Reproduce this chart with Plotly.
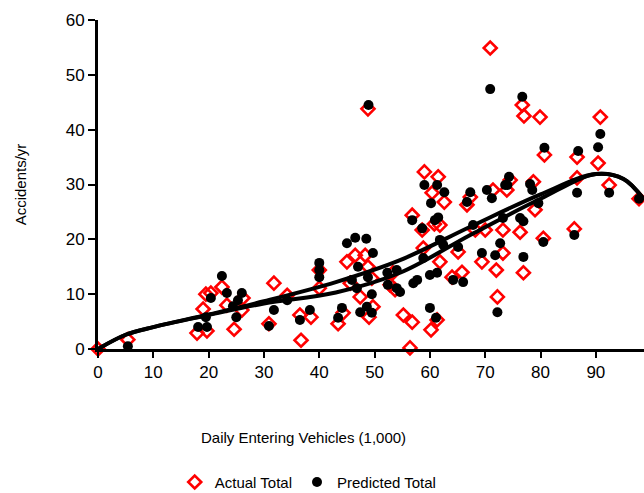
import plotly.graph_objects as go

# Actual totals (red open diamonds)
actual_x = [0, 5.4, 17.9, 19, 19.5, 20.4, 19.7, 22.4, 23.3, 24.6, 26, 26.2, 31.8, 30.9, 34.2,
            36.5, 38.5, 36.7, 40, 40, 43.4, 44.3, 45, 45.6, 46.5, 47.4, 48.3, 48.8, 49.5, 49.7,
            49, 48.8, 52.8, 53.7, 55.2, 56.8, 56.4, 56.8, 58.6, 59, 61.5, 60.4, 62.6, 60.2,
            61.3, 58.8, 61.8, 60.8, 61.8, 64, 65.8, 65.1, 66.7, 68.2, 69.4, 70, 71.4, 72,
            72.2, 73.2, 73.2, 53.3, 70.9, 76.7, 77, 79.9, 90.8, 80.7, 86.6, 90.4, 86.6, 92.4,
            97.8, 78.7, 74.5, 73.9, 67.3, 79, 76.3, 80.5, 86.1, 76.9]
actual_y = [0, 1.7, 2.9, 7.3, 10, 10.2, 3.3, 11.3, 8, 3.6, 7.1, 9.3, 12, 4.6, 9.8,
            6.2, 5.8, 1.6, 14.4, 11.1, 4.6, 6.6, 15.9, 12, 17.1, 9.5, 17.1, 15, 12.9, 7.7,
            5.8, 43.8, 11.7, 10.8, 6.2, 4.9, 0.2, 24.4, 21.7, 32.3, 31.4, 28.5, 26.8, 3.5,
            5.3, 18.4, 22.6, 22.8, 15.9, 13.1, 14, 17.7, 26.3, 21.7, 15.9, 21.7, 29, 14.4,
            9.5, 21.7, 17.5, 13.9, 54.9, 44.5, 42.5, 42.3, 42.3, 35.4, 35, 33.9, 31.2, 29.9,
            27.4, 30.5, 30.8, 29, 27.7, 25.4, 21.3, 20.2, 21.9, 13.9]

# Predicted totals (black dots)
pred_x = [5.4, 18.1, 19.5, 19.7, 20.4, 22.4, 23.3, 25, 24.4, 25.3, 26, 30.9, 31.8, 34.2,
          36.5, 38.3, 40, 40, 40, 43.4, 44.1, 45, 46.5, 48.5, 49.7, 47, 45.9, 46.8, 48.8,
          49.5, 48.6, 49.5, 47.4, 52.3, 52.4, 54, 54, 48.9, 54.6, 56.8, 57, 57.7, 58.6, 59,
          60.2, 61.3, 62.6, 60.9, 61.5, 61.8, 62.4, 60, 61.3, 58.8, 60, 61.1, 64.2, 65.1,
          66, 67.3, 66.7, 67.8, 69.4, 70.3, 71.2, 71.8, 72.7, 72.2, 74, 70.9, 76.7, 80.7,
          86.8, 90.8, 90.4, 86.6, 92.4, 97.8, 74.3, 73.6, 78.1, 78.5, 79.6, 76.3, 76.9,
          73.2, 80.5, 86.1, 76.9]
pred_y = [0.5, 4, 5.8, 4, 9.3, 13.3, 10.2, 5.8, 7.8, 8.9, 10.2, 4.2, 7.1, 8.9,
          5.3, 7.1, 15.7, 14.4, 13.1, 5.7, 7.5, 19.3, 20.3, 20.1, 17.5, 15, 12.6, 11.1, 13.1,
          10, 7.7, 6.6, 6.7, 13.9, 11.7, 11.1, 14.4, 44.5, 10.4, 23.5, 12, 12.6, 22, 29.9,
          26.6, 29.9, 28.6, 23.5, 24, 19.9, 19, 13.5, 13.9, 16.6, 7.5, 5.7, 12.6, 18.6,
          12.2, 28.6, 26.8, 22.6, 17.5, 29, 27.5, 17.1, 19.3, 6.7, 29.9, 47.4, 46, 36.7,
          36.1, 39.2, 36.8, 28.5, 28.5, 27.4, 31.4, 29.9, 30.1, 29, 26.6, 23.9, 23.3,
          23.9, 19.5, 20.8, 16.8]

# trend lines
trend_x = [0, 5, 10, 20, 30, 43, 54.6, 67.3, 80, 90, 95, 98.5]
trend_upper = [0, 2.6, 4.0, 6.3, 8.7, 12.2, 16.2, 22.3, 28.2, 31.9, 31.0, 27.5]
trend_lower = [0, 2.6, 4.0, 6.2, 8.3, 10.3, 13.9, 20.8, 27.4, 31.9, 31.0, 27.5]

fig = go.Figure()
fig.add_trace(go.Scatter(x=actual_x, y=actual_y, mode='markers', name='Actual Total',
                         marker=dict(symbol='diamond-open', size=10, color='#ff0000',
                                     line=dict(width=2.6, color='#ff0000')),
                         cliponaxis=False))
fig.add_trace(go.Scatter(x=pred_x, y=pred_y, mode='markers', name='Predicted Total',
                         marker=dict(symbol='circle', size=10, color='black'),
                         cliponaxis=False))
fig.add_trace(go.Scatter(x=trend_x, y=trend_upper, mode='lines', showlegend=False,
                         line=dict(color='black', width=4, shape='spline')))
fig.add_trace(go.Scatter(x=trend_x, y=trend_lower, mode='lines', showlegend=False,
                         line=dict(color='black', width=4, shape='spline')))

fig.update_layout(
    width=644, height=493,
    margin=dict(l=98, r=0, t=20, b=144, autoexpand=False),
    paper_bgcolor='white', plot_bgcolor='white',
    font=dict(family='Liberation Sans, Arial', color='black', size=15),
    legend=dict(orientation='h', x=0.385, xanchor='center', y=-0.405, yanchor='middle',
                font=dict(size=15)),
    # x title sits left of the plot centre in the original
    annotations=[dict(text='Daily Entering Vehicles (1,000)', xref='paper', yref='paper',
                      x=0.377, y=-0.2675, xanchor='center', yanchor='middle',
                      showarrow=False, font=dict(size=15))],
)
fig.update_xaxes(range=[0, 98.7], tickvals=[0, 10, 20, 30, 40, 50, 60, 70, 80, 90],
                 showgrid=False, zeroline=False, showline=True, linewidth=3, linecolor='black',
                 ticks='outside', ticklen=6, tickwidth=1.5, tickcolor='black',
                 tickfont=dict(size=17))
fig.update_yaxes(range=[0, 60], tickvals=[0, 10, 20, 30, 40, 50, 60],
                 showgrid=False, zeroline=False, showline=True, linewidth=3, linecolor='black',
                 ticks='outside', ticklen=7, tickwidth=1.5, tickcolor='black',
                 tickfont=dict(size=17),
                 title=dict(text='Accidents/yr', standoff=36, font=dict(size=15)))

fig.write_html("out.html", config={'displayModeBar': False},
               post_script="document.body.style.margin='0';")
